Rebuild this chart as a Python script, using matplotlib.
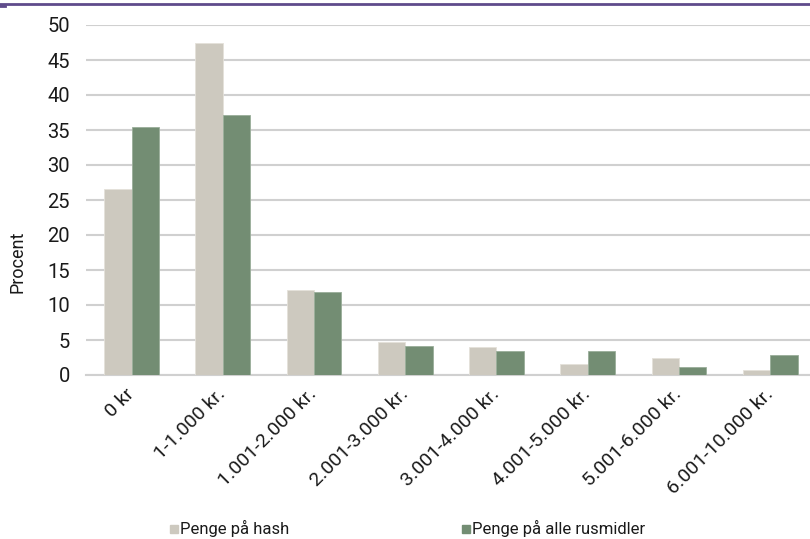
import matplotlib
matplotlib.use("Agg")
import matplotlib.pyplot as plt
from matplotlib.patches import Rectangle
import numpy as np

categories = ["0 kr", "1-1.000 kr.", "1.001-2.000 kr.", "2.001-3.000 kr.",
              "3.001-4.000 kr.", "4.001-5.000 kr.", "5.001-6.000 kr.",
              "6.001-10.000 kr."]
hash_values = [26.6, 47.5, 12.1, 4.7, 4.0, 1.6, 2.4, 0.7]
alle_values = [35.4, 37.2, 11.8, 4.1, 3.5, 3.5, 1.1, 2.9]
series_names = ["Penge på hash", "Penge på alle rusmidler"]
y_ticks = [0, 5, 10, 15, 20, 25, 30, 35, 40, 45, 50]

plt.rcParams["font.family"] = ["Roboto", "DejaVu Sans"]
plt.rcParams["font.weight"] = "normal"

W, H = 810, 539
fig = plt.figure(figsize=(W / 100, H / 100), dpi=100)
ax = fig.add_axes([86 / W, 1 - 375 / H, (W - 86) / W, 350 / H])

x = np.arange(len(categories))
bw = 0.3
c_hash = "#cdc9bf"
c_alle = "#738d73"
ax.bar(x - bw / 2, hash_values, bw, color=c_hash, edgecolor="#e4e1da", linewidth=0.6,
       zorder=3)
ax.bar(x + bw / 2, alle_values, bw, color=c_alle, edgecolor="#9aae9a", linewidth=0.6,
       zorder=3)

ax.set_ylim(0, 50)
ax.set_xlim(-0.5, (W - 131) / 91.3)
ax.set_yticks(y_ticks)
ax.yaxis.grid(True, color="#d0d0d0", linewidth=1.5)
ax.set_axisbelow(True)
for s in ["top", "right", "left"]:
    ax.spines[s].set_visible(False)
ax.spines["bottom"].set_color("#d0d0d0")
ax.spines["bottom"].set_linewidth(1.5)
ax.tick_params(axis="y", length=0, labelsize=14.5, colors="#1a1a1a", pad=11.5)
ax.tick_params(axis="x", length=0, labelsize=14, colors="#1a1a1a", pad=12)
ax.set_xticks(x)
ax.set_xticklabels(categories, rotation=45, ha="right", va="center",
                   rotation_mode="anchor")

fig.text(18 / W, 1 - 262 / H, "Procent", rotation=90, ha="center", va="center",
         fontsize=13, color="#1a1a1a")

# legend entries
legend_items = [(170, c_hash), (462, c_alle)]
for (lx, col), name in zip(legend_items, series_names):
    fig.add_artist(Rectangle((lx / W, 1 - 533 / H), 8 / W, 8 / H, color=col,
                             transform=fig.transFigure))
    fig.text((lx + 10) / W, 1 - 528 / H, name, ha="left", va="center",
             fontsize=12, color="#1a1a1a")

# purple rule across the top
fig.add_artist(plt.Line2D([0, 1], [1 - 3.5 / H, 1 - 3.5 / H], color="#5f4b8b",
                          linewidth=2, transform=fig.transFigure))
fig.add_artist(plt.Line2D([0, 5 / W], [1 - 5.5 / H, 1 - 5.5 / H], color="#5f4b8b",
                          linewidth=2, transform=fig.transFigure))

fig.savefig("out.png", dpi=100)
